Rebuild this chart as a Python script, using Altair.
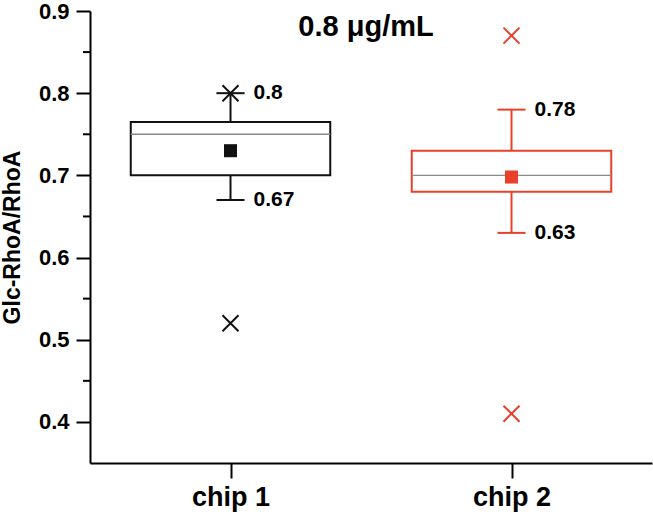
import json
import altair as alt
import pandas as pd

# ---- data ----
TITLE = "0.8 μg/mL"
Y_TITLE = "Glc-RhoA/RhoA"
chips = ["chip 1", "chip 2"]
xpos = [1, 2]
q1 = [0.70, 0.68]
q3 = [0.765, 0.73]
median = [0.75, 0.70]
mean = [0.73, 0.698]
whisk_low = [0.67, 0.63]
whisk_high = [0.80, 0.78]
outlier_chip = ["chip 1", "chip 1", "chip 2", "chip 2"]
outlier_val = [0.80, 0.52, 0.87, 0.41]
colors = ["#111111", "#E8402A"]
y_major = [0.4, 0.5, 0.6, 0.7, 0.8, 0.9]
y_minor = [0.45, 0.55, 0.65, 0.75, 0.85]

# ---- styling constants ----
BOX_HALF = 0.355
CAP_HALF = 0.05
FONT = "Liberation Sans"

pos = dict(zip(chips, xpos))
box = pd.DataFrame({
    "chip": chips, "x": xpos,
    "xl": [p - BOX_HALF for p in xpos], "xr": [p + BOX_HALF for p in xpos],
    "cl": [p - CAP_HALF for p in xpos], "cr": [p + CAP_HALF for p in xpos],
    "q1": q1, "q3": q3, "med": median, "mean": mean,
    "wl": whisk_low, "wh": whisk_high,
})
out = pd.DataFrame({"chip": outlier_chip,
                    "x": [pos[c] for c in outlier_chip],
                    "v": outlier_val})
ann = pd.DataFrame({
    "chip": chips * 2, "x": xpos * 2,
    "v": whisk_high + whisk_low,
    "label": [f"{v:g}" for v in whisk_high + whisk_low],
})
minor = pd.DataFrame({"v": y_minor})
title_df = pd.DataFrame({"t": [TITLE]})

xscale = alt.Scale(domain=[0.5, 2.5], nice=False, zero=False)
yscale = alt.Scale(domain=[0.35, 0.9], nice=False, zero=False)
label_expr = "%s[datum.value - 1]" % json.dumps(chips)

xaxis = alt.Axis(values=xpos, labelExpr=label_expr, title=None, grid=False,
                 domainColor="black", domainWidth=2, tickColor="black",
                 tickWidth=2, tickSize=15, labelFont=FONT, labelFontSize=27,
                 labelFontWeight="bold", labelColor="black", labelPadding=6)
yaxis = alt.Axis(values=y_major, format=".1f", title=Y_TITLE, grid=False,
                 domainColor="black", domainWidth=2, tickColor="black",
                 tickWidth=2, tickSize=14, labelFont=FONT, labelFontSize=22,
                 labelFontWeight="bold", labelColor="black", labelPadding=7,
                 titleFont=FONT, titleFontSize=23, titleFontWeight="bold",
                 titleColor="black", titlePadding=14)

color = alt.Color("chip:N", scale=alt.Scale(domain=chips, range=colors), legend=None)


def X(f):
    return alt.X(f, type="quantitative", scale=xscale, axis=xaxis)


def Y(f):
    return alt.Y(f, type="quantitative", scale=yscale, axis=yaxis)


base = alt.Chart(box)

boxes = base.mark_rect(fill="white", strokeWidth=2).encode(
    x=X("xl"), x2="xr", y=Y("q1"), y2="q3", stroke=color)
med = base.mark_rule(color="#8a8a8a", strokeWidth=1.3).encode(
    x=X("xl"), x2="xr", y=Y("med"))
wh_up = base.mark_rule(strokeWidth=2).encode(x=X("x"), y=Y("q3"), y2="wh", color=color)
wh_dn = base.mark_rule(strokeWidth=2).encode(x=X("x"), y=Y("wl"), y2="q1", color=color)
cap_up = base.mark_rule(strokeWidth=2).encode(x=X("cl"), x2="cr", y=Y("wh"), color=color)
cap_dn = base.mark_rule(strokeWidth=2).encode(x=X("cl"), x2="cr", y=Y("wl"), color=color)
means = base.mark_point(shape="square", filled=True, size=170, opacity=1).encode(
    x=X("x"), y=Y("mean"), color=color)
outs = alt.Chart(out).mark_point(shape="M-1,-1L1,1M-1,1L1,-1", size=256,
                                 strokeWidth=2, filled=False, opacity=1).encode(
    x=X("x"), y=Y("v"), color=color)
labels = alt.Chart(ann).mark_text(align="left", baseline="middle", dx=23,
                                  font=FONT, fontSize=21, fontWeight="bold",
                                  color="black").encode(
    x=X("x"), y=Y("v"), text="label:N")
minor_ticks = alt.Chart(minor).mark_rule(color="black", strokeWidth=2).encode(
    x=alt.value(-7), x2=alt.value(0), y=Y("v"))
title = alt.Chart(title_df).mark_text(align="center", baseline="top", font=FONT,
                                      fontSize=29, fontWeight="bold",
                                      color="black").encode(
    x=alt.value(276), y=alt.value(2), text="t:N")

chart = alt.layer(boxes, med, wh_up, wh_dn, cap_up, cap_dn, means, outs, labels,
                  minor_ticks, title).properties(
    width=562, height=452,
    autosize=alt.AutoSizeParams(type="none"),
    padding={"left": 90, "top": 11, "right": 1, "bottom": 52},
    background="white",
).configure_view(stroke=None)

chart.save("out.html", embed_options={"renderer": "svg", "actions": False})
